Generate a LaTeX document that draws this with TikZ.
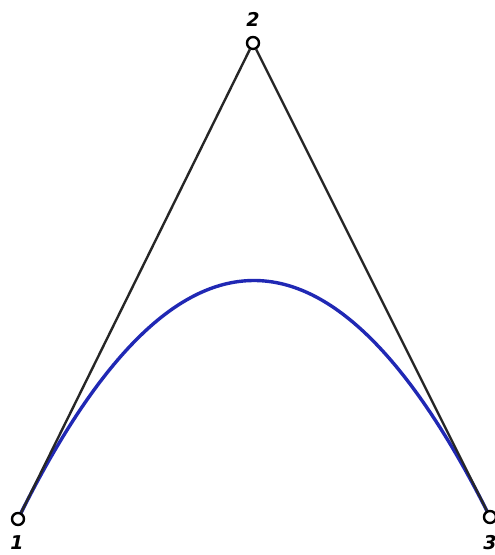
\documentclass[tikz,border=0pt]{standalone}
\usepackage{fontspec}
\newfontfamily\labfont{DejaVu Sans}
\usetikzlibrary{calc}
\definecolor{curveblue}{RGB}{32,40,180}
\tikzset{
  pt/.style={circle,draw=black,fill=white,line width=2.4pt,minimum size=12pt,inner sep=0pt},
  lab/.style={font=\labfont\bfseries\itshape\fontsize{19}{19}\selectfont,inner sep=0pt},
  poly/.style={draw=black!85,line width=2.4pt},
  curve/.style={draw=curveblue,line width=3.4pt}
}
\begin{document}
\begin{tikzpicture}[x=1pt,y=-1pt]
\useasboundingbox[fill=white] (0,0) rectangle (495,555);
\coordinate (c1) at (18,519);
\coordinate (c2) at (253,43);
\coordinate (c3) at (490,517);
\draw[curve] (c1) .. controls ($(c1)!2/3!(c2)$) and ($(c3)!2/3!(c2)$) .. (c3);
\node[pt] (p1) at (c1) {};
\node[pt] (p2) at (c2) {};
\node[pt] (p3) at (c3) {};
\draw[poly] (p1) -- (p2) -- (p3);
\node[lab] (l1) at (17,543) {1};
\node[lab] (l2) at (253,19) {2};
\node[lab] (l3) at (490,543) {3};
\end{tikzpicture}
\end{document}
